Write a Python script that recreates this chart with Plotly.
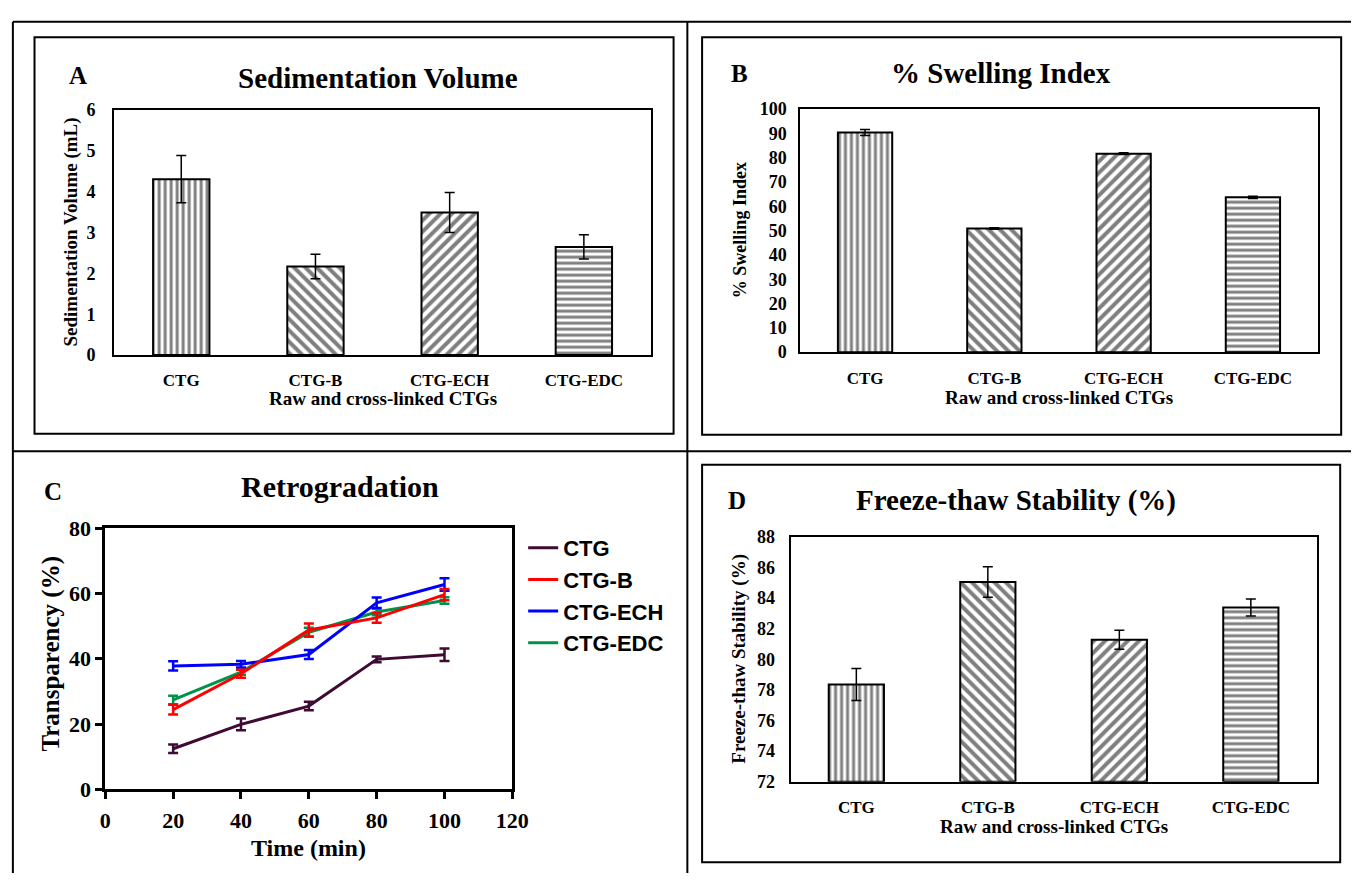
import plotly.graph_objects as go

W, H = 1368, 886
SERIF = "Liberation Serif"
SANS = "Liberation Sans"

# ---------------- data ----------------
categories = ["CTG", "CTG-B", "CTG-ECH", "CTG-EDC"]
bar_patterns = ["|", "\\", "/", "-"]

sed_volume = [4.31, 2.17, 3.49, 2.65]
sed_err = [0.58, 0.30, 0.49, 0.30]

swelling = [90.4, 50.9, 81.7, 63.7]
swelling_err = [1.2, 0.3, 0.4, 0.5]

freeze_thaw = [78.35, 85.04, 81.27, 83.38]
freeze_err = [1.05, 1.0, 0.62, 0.55]

time_min = [20, 40, 60, 80, 100]
retro_names = ["CTG", "CTG-B", "CTG-ECH", "CTG-EDC"]
retro_values = {
    "CTG": [12.45, 19.9, 25.5, 39.8, 41.2],
    "CTG-B": [24.4, 35.4, 48.8, 52.5, 59.6],
    "CTG-ECH": [37.8, 38.3, 41.3, 57.1, 62.7],
    "CTG-EDC": [27.4, 35.9, 48.1, 54.3, 57.8],
}
retro_err = {
    "CTG": [1.3, 1.8, 1.3, 0.9, 1.9],
    "CTG-B": [1.5, 1.2, 2.0, 1.5, 1.7],
    "CTG-ECH": [1.4, 1.0, 1.4, 1.6, 1.9],
    "CTG-EDC": [1.3, 0.8, 1.4, 1.0, 1.0],
}
retro_colors = {"CTG": "#3f0a34", "CTG-B": "#ff0000", "CTG-ECH": "#0000ff", "CTG-EDC": "#00924a"}
retro_draw_order = ["CTG", "CTG-EDC", "CTG-ECH", "CTG-B"]


def px(x):
    return x / W


def py(y):
    return 1 - y / H


fig = go.Figure()

# ---------------- bar panels ----------------
bar_panels = [
    ("x", "y", sed_volume, sed_err, 0),
    ("x2", "y2", swelling, swelling_err, 0),
    ("x4", "y4", freeze_thaw, freeze_err, 72),
]
for xa, ya, vals, errs, base in bar_panels:
    fig.add_trace(go.Bar(
        x=categories, y=[v - base for v in vals], base=base,
        xaxis=xa, yaxis=ya, width=0.42, showlegend=False,
        marker=dict(color="white", line=dict(color="black", width=2),
                    pattern=dict(shape=bar_patterns, fgcolor="black", bgcolor="white",
                                 size=[6, 8, 8, 6], solidity=0.5)),
        error_y=dict(type="data", array=errs, color="black", thickness=1.5, width=5),
    ))

# ---------------- line panel ----------------
for name in retro_draw_order:
    fig.add_trace(go.Scatter(
        x=time_min, y=retro_values[name], name=name, mode="lines",
        xaxis="x3", yaxis="y3",
        line=dict(color=retro_colors[name], width=3),
        error_y=dict(type="data", array=retro_err[name], color=retro_colors[name],
                     thickness=2.5, width=5),
        legendgroup=name, legendrank=retro_names.index(name) + 1,
    ))

tick_font = dict(family=SERIF, size=18, color="black", weight="bold")
cat_font = dict(family=SERIF, size=17, color="black", weight="bold")

common_frame = dict(showline=True, linecolor="black", linewidth=2, mirror=True,
                    showgrid=False, zeroline=False, ticks="")
c_axis = dict(showline=True, linecolor="black", linewidth=3, mirror=True,
              ticks="outside", ticklen=7, tickwidth=3, tickcolor="black",
              showgrid=False, zeroline=False,
              tickfont=dict(family=SERIF, size=22, color="black", weight="bold"))

fig.update_layout(
    width=W, height=H, margin=dict(l=0, r=0, t=0, b=0),
    paper_bgcolor="white", plot_bgcolor="white",
    xaxis=dict(domain=[px(110), px(656)], anchor="y", range=[-0.5, 3.5],
               tickfont=cat_font, ticklabelstandoff=9, **common_frame),
    yaxis=dict(domain=[py(353), py(101)], anchor="x", range=[0, 6], dtick=1,
               tickfont=tick_font, ticklabelstandoff=13, **common_frame),
    xaxis2=dict(domain=[px(808), px(1334)], anchor="y2", range=[-0.5, 3.5],
                tickfont=cat_font, ticklabelstandoff=9, **common_frame),
    yaxis2=dict(domain=[py(350), py(100)], anchor="x2", range=[0, 100], dtick=10,
                tickfont=tick_font, ticklabelstandoff=8, **common_frame),
    xaxis4=dict(domain=[px(798), px(1333)], anchor="y4", range=[-0.5, 3.5],
                tickfont=cat_font, ticklabelstandoff=9, **common_frame),
    yaxis4=dict(domain=[py(792), py(540)], anchor="x4", range=[72, 88], dtick=2,
                tickfont=tick_font, ticklabelstandoff=10, **common_frame),
    xaxis3=dict(domain=[px(101), px(515)], anchor="y3", range=[0, 120], dtick=20,
                ticklabelstandoff=2, **c_axis),
    yaxis3=dict(domain=[py(800), py(531)], anchor="x3", range=[0, 80], dtick=20,
                **c_axis),
    legend=dict(x=px(526), y=py(530), xanchor="left", yanchor="top",
                font=dict(family=SANS, size=22, color="black", weight="bold"),
                bgcolor="rgba(0,0,0,0)", itemwidth=30, tracegroupgap=9,
                traceorder="normal"),
)

# ---------------- frames & dividers ----------------
shapes = []
line2 = dict(color="black", width=2)
shapes.append(dict(type="line", xref="paper", yref="paper", x0=px(7), x1=1, y0=py(10), y1=py(10), line=line2))
shapes.append(dict(type="line", xref="paper", yref="paper", x0=px(7), x1=px(7), y0=py(10), y1=0, line=line2))
shapes.append(dict(type="line", xref="paper", yref="paper", x0=px(693), x1=px(693), y0=py(10), y1=0, line=line2))
shapes.append(dict(type="line", xref="paper", yref="paper", x0=px(7), x1=1, y0=py(452), y1=py(452), line=line2))
for (x0, y0, x1, y1) in [(29, 26, 679, 434), (708, 26, 1358, 435), (708, 466, 1357, 875)]:
    shapes.append(dict(type="rect", xref="paper", yref="paper", x0=px(x0), x1=px(x1),
                       y0=py(y1), y1=py(y0), line=line2, fillcolor="rgba(0,0,0,0)"))
fig.update_layout(shapes=shapes)


# ---------------- annotations ----------------
def ann(text, x, y, size, family=SERIF, angle=0):
    fig.add_annotation(text=text, x=px(x), y=py(y), xref="paper", yref="paper",
                       showarrow=False, textangle=angle, xanchor="center", yanchor="middle",
                       font=dict(family=family, size=size, color="black", weight="bold"))


ann("A", 73, 65, 25)
ann("B", 746, 63, 25)
ann("C", 48, 493, 25)
ann("D", 744, 503, 25)
ann("Sedimentation Volume", 378, 68, 29)
ann("% Swelling Index", 1012, 63, 29)
ann("Retrogradation", 340, 488, 30)
ann("Freeze-thaw Stability (%)", 1027, 503, 29)
ann("Sedimentation Volume (mL)", 66, 226, 19, angle=-90)
ann("Raw and cross-linked CTGs", 383, 398, 19)
ann("% Swelling Index", 746, 224, 18, angle=-90)
ann("Raw and cross-linked CTGs", 1071, 397, 19)
ann("Freeze-thaw Stability (%)", 746, 665, 19, angle=-90)
ann("Raw and cross-linked CTGs", 1066, 838, 19)
ann("Transparency (%)", 46, 660, 25, angle=-90)
ann("Time (min)", 308, 860, 24)

fig.write_html("out.html")
